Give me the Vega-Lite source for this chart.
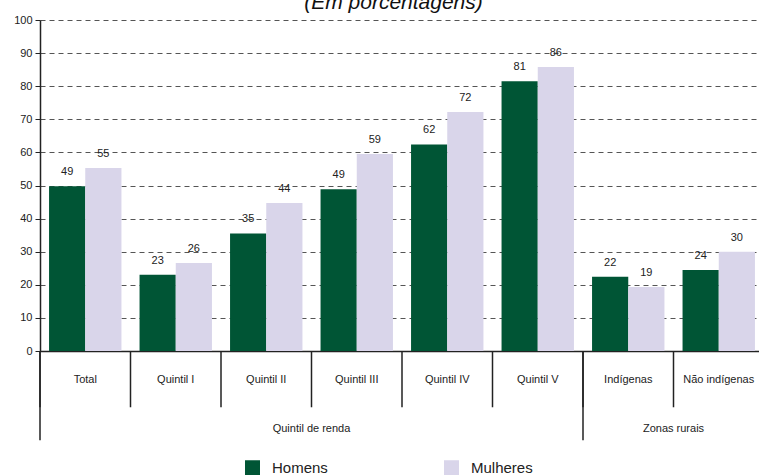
{
  "$schema": "https://vega.github.io/schema/vega-lite/v6.json",
  "width": 719,
  "height": 331,
  "autosize": "none",
  "padding": {"left": 40, "top": 20, "right": 0, "bottom": 124},
  "config": {
    "font": "Liberation Sans",
    "view": {"stroke": null},
    "axisY": {"labelOverlap": false, "gridDash": [5, 4], "gridColor": "#555", "gridWidth": 1, "domainColor": "#222", "domainWidth": 1.5, "tickColor": "#222", "tickSize": 5, "labelFontSize": 11, "labelColor": "#222", "labelPadding": 3, "title": null}
  },
  "title": {"text": "(Em porcentagens)", "fontStyle": "italic", "fontSize": 21, "fontWeight": "normal", "color": "#111", "offset": 1, "dx": -6},
  "datasets": {
    "bars": [
      {"cat": "Total", "sexo": "Homens", "valor": 49.8, "rotulo": "49"},
      {"cat": "Total", "sexo": "Mulheres", "valor": 55.3, "rotulo": "55"},
      {"cat": "Quintil I", "sexo": "Homens", "valor": 23.0, "rotulo": "23"},
      {"cat": "Quintil I", "sexo": "Mulheres", "valor": 26.6, "rotulo": "26"},
      {"cat": "Quintil II", "sexo": "Homens", "valor": 35.5, "rotulo": "35"},
      {"cat": "Quintil II", "sexo": "Mulheres", "valor": 44.7, "rotulo": "44"},
      {"cat": "Quintil III", "sexo": "Homens", "valor": 48.9, "rotulo": "49"},
      {"cat": "Quintil III", "sexo": "Mulheres", "valor": 59.5, "rotulo": "59"},
      {"cat": "Quintil IV", "sexo": "Homens", "valor": 62.4, "rotulo": "62"},
      {"cat": "Quintil IV", "sexo": "Mulheres", "valor": 72.2, "rotulo": "72"},
      {"cat": "Quintil V", "sexo": "Homens", "valor": 81.5, "rotulo": "81"},
      {"cat": "Quintil V", "sexo": "Mulheres", "valor": 85.8, "rotulo": "86"},
      {"cat": "Indígenas", "sexo": "Homens", "valor": 22.4, "rotulo": "22"},
      {"cat": "Indígenas", "sexo": "Mulheres", "valor": 19.3, "rotulo": "19"},
      {"cat": "Não indígenas", "sexo": "Homens", "valor": 24.5, "rotulo": "24"},
      {"cat": "Não indígenas", "sexo": "Mulheres", "valor": 30.0, "rotulo": "30"}
    ],
    "seps": [
      {"cat": "Total"}, {"cat": "Quintil I"}, {"cat": "Quintil II"}, {"cat": "Quintil III"},
      {"cat": "Quintil IV"}, {"cat": "Quintil V"}, {"cat": "Indígenas"}, {"cat": "Não indígenas"}
    ],
    "groups": [
      {"group": "Quintil de renda", "start": "Total", "mid": "Quintil III"},
      {"group": "Zonas rurais", "start": "Indígenas", "mid": "Não indígenas"}
    ]
  },
  "layer": [
    {
      "data": {"name": "bars"},
      "mark": {"type": "bar"},
      "encoding": {
        "x": {
          "field": "cat", "type": "nominal", "sort": null, "title": null,
          "scale": {"domain": ["Total", "Quintil I", "Quintil II", "Quintil III", "Quintil IV", "Quintil V", "Indígenas", "Não indígenas"], "range": [0, 724], "paddingInner": 0, "paddingOuter": 0},
          "axis": {"title": null, "ticks": false, "labelAngle": 0, "labelPadding": 22, "labelFontSize": 11, "labelColor": "#222", "domainColor": "#222", "domainWidth": 1.5, "labelLimit": 0}
        },
        "xOffset": {"field": "sexo", "type": "nominal", "sort": ["Homens", "Mulheres"], "scale": {"paddingOuter": 0.25, "paddingInner": 0}},
        "y": {
          "field": "valor", "type": "quantitative",
          "scale": {"domain": [0, 100]},
          "axis": {"title": null, "values": [0, 10, 20, 30, 40, 50, 60, 70, 80, 90, 100], "tickCount": 11}
        },
        "color": {
          "field": "sexo", "type": "nominal",
          "scale": {"domain": ["Homens", "Mulheres"], "range": ["#005535", "#d9d5ea"]},
          "legend": {"title": null, "orient": "none", "legendX": 205, "legendY": 440, "direction": "horizontal", "symbolType": "square", "symbolSize": 225, "symbolStrokeWidth": 0, "labelFontSize": 15, "labelColor": "#222", "labelOffset": 12, "columnPadding": 116}
        }
      }
    },
    {
      "data": {"name": "bars"},
      "mark": {"type": "text", "baseline": "middle", "dy": -14, "fontSize": 11, "color": "#222"},
      "encoding": {
        "x": {"field": "cat", "type": "nominal", "sort": null},
        "xOffset": {"field": "sexo", "type": "nominal", "sort": ["Homens", "Mulheres"]},
        "y": {"field": "valor", "type": "quantitative", "axis": {"title": null, "values": [0, 10, 20, 30, 40, 50, 60, 70, 80, 90, 100], "tickCount": 11}},
        "text": {"field": "rotulo", "type": "nominal"}
      }
    },
    {
      "data": {"name": "seps"},
      "mark": {"type": "rule", "color": "#222", "strokeWidth": 1.5},
      "encoding": {
        "x": {"field": "cat", "type": "nominal", "bandPosition": 0},
        "y": {"datum": 0, "type": "quantitative", "axis": {"title": null, "values": [0, 10, 20, 30, 40, 50, 60, 70, 80, 90, 100], "tickCount": 11}},
        "y2": {"datum": -17}
      }
    },
    {
      "data": {"name": "groups"},
      "mark": {"type": "rule", "color": "#222", "strokeWidth": 1.5},
      "encoding": {
        "x": {"field": "start", "type": "nominal", "bandPosition": 0},
        "y": {"datum": 0, "type": "quantitative", "axis": {"title": null, "values": [0, 10, 20, 30, 40, 50, 60, 70, 80, 90, 100], "tickCount": 11}},
        "y2": {"datum": -27}
      }
    },
    {
      "data": {"name": "groups"},
      "mark": {"type": "text", "baseline": "middle", "fontSize": 11, "color": "#222"},
      "encoding": {
        "x": {"field": "mid", "type": "nominal", "bandPosition": 0},
        "y": {"datum": -23.5, "type": "quantitative", "axis": {"title": null, "values": [0, 10, 20, 30, 40, 50, 60, 70, 80, 90, 100], "tickCount": 11}},
        "text": {"field": "group"}
      }
    }
  ]
}
